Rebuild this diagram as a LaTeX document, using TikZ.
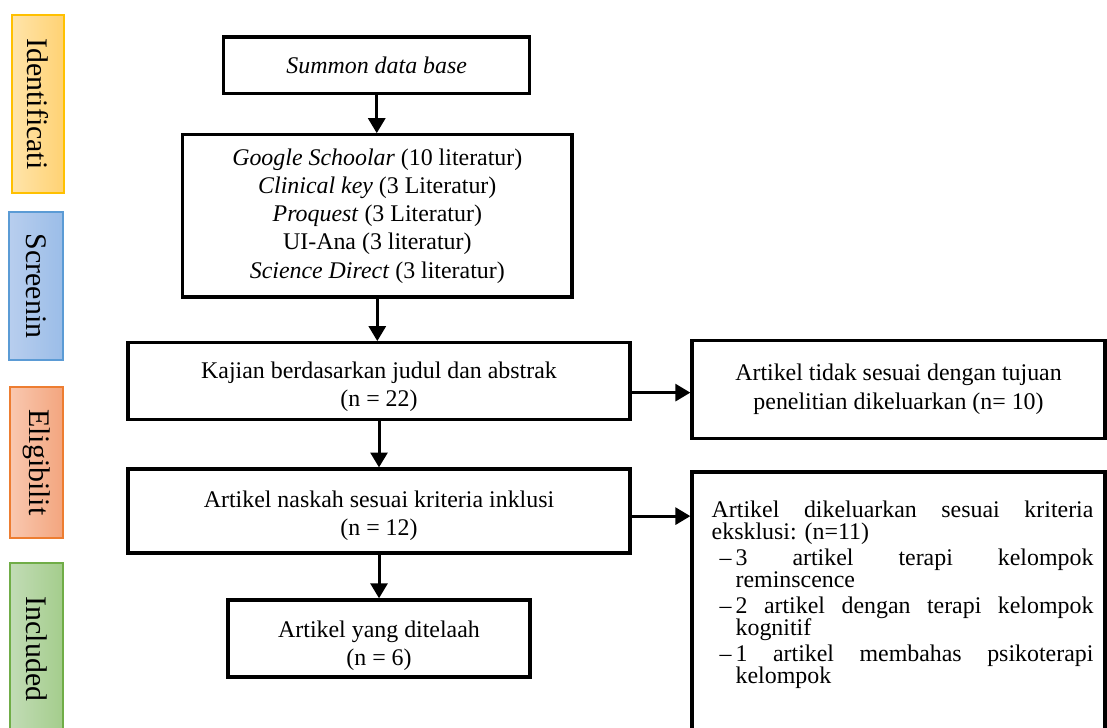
\documentclass[tikz,border=0pt]{standalone}
\usepackage{fontspec}
\setmainfont{Liberation Serif}
\usepackage{xcolor}
\usepackage{tikz}
\usetikzlibrary{arrows.meta, positioning}

\definecolor{identline}{HTML}{FFC000}
\definecolor{identlight}{RGB}{255,228,170}
\definecolor{identdark}{RGB}{255,210,115}
\definecolor{screenline}{HTML}{5B9BD5}
\definecolor{screenlight}{RGB}{184,206,238}
\definecolor{screendark}{RGB}{155,189,232}
\definecolor{eligline}{HTML}{ED7D31}
\definecolor{eliglight}{RGB}{249,200,176}
\definecolor{eligdark}{RGB}{243,165,126}
\definecolor{inclline}{HTML}{70AD47}
\definecolor{incllight}{RGB}{194,220,182}
\definecolor{incldark}{RGB}{164,205,140}

\newlength{\exwidth}
\setlength{\exwidth}{191.7pt}
\newcommand{\exitem}[2]{\hspace*{4pt}\makebox[8pt][l]{--}\hbox to\dimexpr\exwidth-12pt\relax{#1}\\\hspace*{12pt}#2}

\begin{document}
\begin{tikzpicture}[
        stage/.style={rectangle, draw=black, line width=1.66pt, align=center, inner sep=0pt, font=\fontsize{12}{14.2}\selectfont},
        phase/.style={rectangle, rotate=-90, line width=0.8pt, inner sep=0pt, font=\fontsize{15}{17}\selectfont},
        relation/.style={-{Triangle[length=7.5pt, width=8.5pt]}, line width=1.5pt}
    ]
        \useasboundingbox (0,0) rectangle (19.54,-12.85);

        % Phases on the left
        \node[phase, draw=identline, left color=identlight, right color=identdark, minimum width=3.14cm, minimum height=0.92cm] (ident) at (0.671,-1.836) {Identificati};
        \node[phase, draw=screenline, left color=screenlight, right color=screendark, minimum width=2.61cm, minimum height=0.95cm] (screen) at (0.635,-5.048) {Screenin};
        \node[phase, draw=eligline, left color=eliglight, right color=eligdark, minimum width=2.67cm, minimum height=0.94cm] (elig) at (0.644,-8.163) {Eligibilit};
        \node[phase, draw=inclline, left color=incllight, right color=incldark, minimum width=3.04cm, minimum height=0.94cm] (incl) at (0.644,-11.455) {Included};

        % Main column
        \node[stage, minimum width=5.40cm, minimum height=0.99cm] (summon) at (6.65,-1.15) {\textit{Summon data base}};
        \node[stage, minimum width=6.87cm, minimum height=2.86cm] (sources) at (6.66,-3.81) {\textit{Google Schoolar} (10 literatur)\\\textit{Clinical key} (3 Literatur)\\\textit{Proquest} (3 Literatur)\\UI-Ana (3 literatur)\\\textit{Science Direct} (3 literatur)};
        \node[stage, minimum width=8.86cm, minimum height=1.36cm] (kajian) at (6.69,-6.73) {\rule{0pt}{14pt}Kajian berdasarkan judul dan abstrak\\(n = 22)};
        \node[stage, minimum width=8.86cm, minimum height=1.48cm] (naskah) at (6.69,-9.02) {\rule{0pt}{13pt}Artikel naskah sesuai kriteria inklusi\\(n = 12)};
        \node[stage, minimum width=5.33cm, minimum height=1.36cm] (telaah) at (6.69,-11.27) {\rule{0pt}{15.5pt}Artikel yang ditelaah\\(n = 6)};

        % Excluded (right)
        \node[stage, minimum width=7.29cm, minimum height=1.73cm] (tidak) at (15.86,-6.87) {Artikel tidak sesuai dengan tujuan\\penelitian dikeluarkan (n= 10)};
        \node[stage, minimum width=7.29cm, minimum height=5.08cm] (keluar) at (15.86,-10.87) {};
        \node[anchor=north west, text width=\exwidth, align=left, inner sep=0pt, font=\fontsize{12}{11.3}\selectfont\frenchspacing] (keluartext) at ([shift={(0.37,-0.53)}]keluar.north west) {\hbox to\exwidth{Artikel\hfill dikeluarkan\hfill sesuai\hfill kriteria}\\
            eksklusi: (n=11)\\[1.5pt]
            \exitem{3\hfill artikel\hfill terapi\hfill kelompok}{reminscence}\\[1.5pt]
            \exitem{2\hfill artikel\hfill dengan\hfill terapi\hfill kelompok}{kognitif}\\[1.5pt]
            \exitem{1\hfill artikel\hfill membahas\hfill psikoterapi}{kelompok}};

        % Arrows
        \draw[relation] (summon) -- (summon |- sources.north);
        \draw[relation] (sources) -- (sources |- kajian.north);
        \draw[relation] (kajian) -- (kajian |- naskah.north);
        \draw[relation] (naskah) -- (naskah |- telaah.north);
        \draw[relation] ([yshift=-0.2cm]kajian.east) -- ([yshift=-0.2cm]kajian.east -| tidak.west);
        \draw[relation] ([yshift=-0.09cm]naskah.east) -- ([yshift=-0.09cm]naskah.east -| keluar.west);
    \end{tikzpicture}
\end{document}
